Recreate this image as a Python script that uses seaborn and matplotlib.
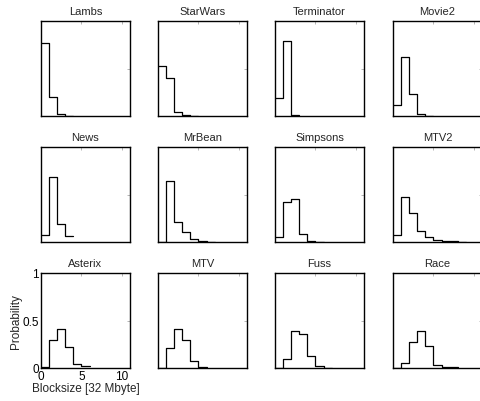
import numpy as np
import pandas as pd
import matplotlib
matplotlib.use("Agg")
import matplotlib.pyplot as plt
import seaborn as sns

# Block size distributions (probability per 32 Mbyte bin, bins start at 0)
titles = ["Lambs", "StarWars", "Terminator", "Movie2",
          "News", "MrBean", "Simpsons", "MTV2",
          "Asterix", "MTV", "Fuss", "Race"]

lambs = [0.77, 0.20, 0.02, 0.005]
starwars = [0.53, 0.40, 0.04, 0.01, 0.003]
terminator = [0.19, 0.79, 0.01]
movie2 = [0.12, 0.62, 0.23, 0.02, 0.003]
news = [0.077, 0.68, 0.19, 0.066]
mrbean = [0.0, 0.64, 0.21, 0.11, 0.035, 0.01, 0.005]
simpsons = [0.05, 0.42, 0.45, 0.084, 0.014, 0.003]
mtv2 = [0.07, 0.47, 0.31, 0.12, 0.056, 0.02, 0.014, 0.01, 0.005]
asterix = [0.01, 0.29, 0.41, 0.22, 0.046, 0.018]
mtv = [0.0, 0.21, 0.41, 0.29, 0.077, 0.014]
fuss = [0.0, 0.10, 0.39, 0.355, 0.126, 0.02, 0.005]
race = [0.0, 0.053, 0.27, 0.39, 0.23, 0.035, 0.014, 0.01]

series = [lambs, starwars, terminator, movie2,
          news, mrbean, simpsons, mtv2,
          asterix, mtv, fuss, race]

x_ticks = [0, 5, 10]
y_ticks = [0, 0.5, 1]

sns.set_style("white")
plt.rcParams["font.family"] = ["Liberation Sans", "DejaVu Sans"]
plt.rcParams["font.size"] = 8

fig = plt.figure(figsize=(4.81, 4.02), dpi=100)
W, H = 481.0, 402.0
col_left = [41, 158, 275, 393]
row_top = [22, 148, 274]
ax_w, ax_h = 89, 95

for i, (name, probs) in enumerate(zip(titles, series)):
    r, c = divmod(i, 4)
    ax = fig.add_axes([col_left[c] / W, 1 - (row_top[r] + ax_h) / H, ax_w / W, ax_h / H])
    df = pd.DataFrame({"size": np.arange(len(probs)) + 0.5, "p": probs})
    sns.histplot(data=df, x="size", weights="p", binwidth=1, binrange=(0, len(probs)),
                 element="step", fill=False, color="black", linewidth=0.9, ax=ax)
    ax.set_xlim(0, 11)
    ax.set_ylim(0, 1)
    ax.set_xticks(x_ticks)
    ax.set_yticks(y_ticks)
    ax.tick_params(direction="in", length=2, width=0.5, top=True, right=True,
                   colors="#999999", labelcolor="black", labelsize=8.5, pad=1.5)
    for sp in ax.spines.values():
        sp.set_visible(True)
        sp.set_color("black")
        sp.set_linewidth(1.0)
    ax.set_title(name, fontsize=8, pad=5)
    ax.set_xlabel("")
    ax.set_ylabel("")
    if name == "Asterix":
        ax.set_xticklabels(["0", "5", "10"])
        ax.set_yticklabels(["0", "0.5", "1"])
        ax.set_xlabel("Blocksize [32 Mbyte]", fontsize=8.5, labelpad=0)
        ax.set_ylabel("Probability", fontsize=8.5, labelpad=0)
    else:
        ax.set_xticklabels([])
        ax.set_yticklabels([])

fig.savefig("out.png", dpi=100)
